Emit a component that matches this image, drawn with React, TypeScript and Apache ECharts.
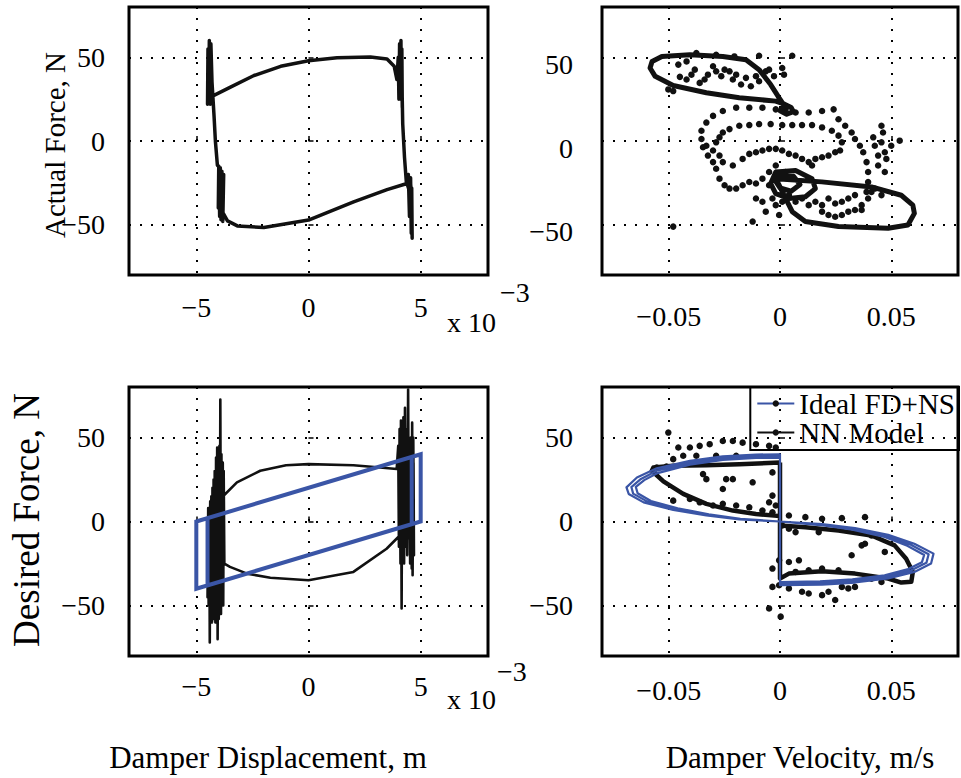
import React, { useEffect, useRef } from 'react';
import * as echarts from 'echarts';

const FONT = "'Liberation Serif', 'Times New Roman', serif";
const BLUE = '#3A55A6';
const INK = '#111111';

// tick labels
const dispTicks = [-5, 0, 5];
const velTicks = [-0.05, 0, 0.05];
const forceTicks = [-50, 0, 50];

// ---- Actual force vs displacement (x in 1e-3 m, y in N)
const actualDispLoop: number[][] = [
  [-4.28, 26.8], [-3.5, 32.0], [-2.43, 39.1], [-1.24, 44.6], [0, 47.9], [1.27, 49.7], [2.76, 50.1],
  [3.5, 48.9], [3.82, 44.6], [3.94, 36.7],
  [4.0, 50], [4.03, 25], [4.06, 58], [4.09, 30], [4.12, 60], [4.14, 25], [4.16, 55], [4.18, 20], [4.15, 45], [4.2, 10],
  [4.28, -10], [4.36, -24.5],
  [4.45, -20], [4.5, -45], [4.55, -22], [4.58, -55], [4.6, -28], [4.62, -58], [4.6, -35], [4.55, -25], [4.5, -30], [4.39, -25.4],
  [3.5, -29], [2.01, -36.3], [0, -47.2], [-1.99, -51.7], [-3.17, -50.7], [-3.61, -47.7], [-3.84, -42.2],
  [-3.78, -20], [-3.82, -48], [-3.86, -18], [-3.9, -47], [-3.93, -16], [-3.96, -45], [-3.99, -17], [-4.02, -40], [-4.0, -15],
  [-4.06, -14.6], [-4.15, 0], [-4.21, 15],
  [-4.3, 35], [-4.35, 58], [-4.38, 22], [-4.42, 60], [-4.45, 25], [-4.48, 55], [-4.5, 22], [-4.45, 45], [-4.35, 28], [-4.28, 26.8],
];

// ---- Actual force vs velocity (x in m/s, y in N)
const actualVelUpperLoop: number[][] = [
  [-0.0004, 25.8], [-0.0042, 33.7], [-0.0094, 42.6], [-0.0153, 48.5], [-0.0257, 50.5], [-0.0405, 51.5],
  [-0.0531, 50.5], [-0.0575, 47.5], [-0.0584, 43.6], [-0.0561, 38.6], [-0.048, 33.1], [-0.0331, 28.8],
  [-0.0183, 25.8], [-0.0019, 23.8], [0.002, 22.0], [0.005, 20.0], [0.006, 17.5], [0.003, 16.0], [0.0, 18.0],
  [0.002, 21.0], [-0.0004, 25.8],
];
const actualVelLowerLoop: number[][] = [
  [-0.0019, -22.5], [0.0188, -24.4], [0.0411, -27.4], [0.0545, -32.4], [0.0597, -38.3], [0.0604, -43.2],
  [0.0575, -50.1], [0.0486, -52.1], [0.0263, -51.1], [0.0114, -48.1], [0.0055, -42.2], [0.0025, -34.3],
  [-0.0004, -26.4], [-0.0019, -22.5],
  [-0.0019, -18.5], [0.007, -17.6], [0.0144, -22.5], [0.0159, -28.4], [0.0114, -33.3], [0.004, -34.3],
  [-0.0019, -31.4], [-0.0042, -25.4], [-0.0019, -18.5],
  [0.0, -20.0], [0.006, -21.0], [0.009, -26.0], [0.005, -30.0], [0.0, -28.0], [-0.002, -24.0], [0.0, -20.0],
];
const actualVelDots: number[][] = [
  [-0.0502, 30.8], [-0.048, 29.8], [-0.045, 38.3], [-0.042, 36.7], [-0.0398, 39.6], [-0.0383, 42.6],
  [-0.0361, 34.7], [-0.0339, 36.7], [-0.0324, 39.6], [-0.0301, 44.6], [-0.0287, 41.6], [-0.0264, 38.7],
  [-0.0249, 42.6], [-0.0227, 41.6], [-0.0212, 36.7], [-0.0197, 39.6], [-0.0175, 33.7], [-0.0153, 37.7],
  [-0.0131, 32.7], [-0.0108, 38.7], [-0.0094, 35.7], [-0.0064, 41.6], [-0.0049, 42.6], [-0.0027, 38.7],
  [0.001, 43.6], [0.0018, 39.6], [0.0055, 50.9], [-0.0094, 50.9], [-0.0205, 50.5], [-0.0287, 51.5],
  [-0.0376, 52.5], [-0.0457, 45.6], [-0.042, 47.5],
  [-0.0019, 18.9], [-0.0079, 19.9], [-0.0138, 19.9], [-0.0197, 19.9], [-0.0257, 17.9], [-0.0301, 15.0],
  [-0.0331, 11.0], [-0.0353, 6.1], [-0.0353, 1.2], [-0.0346, -3.7], [-0.0324, -8.7], [-0.0301, -12.6],
  [-0.0287, -16.6], [-0.0272, -22.5], [-0.0249, -26.4], [-0.0227, -28.4], [-0.0197, -28.4], [-0.0168, -26.4],
  [-0.0138, -24.5], [-0.0108, -25.4],
  [0.0025, 18.9], [0.007, 17.0], [0.0129, 17.0], [0.0189, 17.9], [0.0241, 18.9], [0.0263, 13.0],
  [0.0293, 9.1], [0.0322, 5.1], [0.0337, 1.2], [0.0359, -2.8], [0.0374, -6.7], [0.0389, -12.6],
  [0.0396, -18.5], [0.0396, -24.5], [0.0389, -30.4],
  [-0.0257, 5.1], [-0.0227, 7.1], [-0.0183, 9.1], [-0.0138, 9.5], [-0.0094, 10.1], [-0.0042, 10.1],
  [0.001, 9.5], [0.0055, 9.5], [0.0099, 9.5], [0.0144, 9.5], [0.0189, 8.1], [0.0233, 6.1], [0.0263, 3.2],
  [0.0278, -0.8], [0.027, -5.7], [0.0248, -6.7], [0.0218, -8.7], [0.0189, -9.7], [0.0159, -10.7],
  [-0.0331, -2.8], [-0.0301, -5.7], [-0.0272, -8.7], [-0.0257, -12.6], [-0.0212, -14.6], [-0.0287, -0.8],
  [-0.0272, 2.2],
  [-0.0168, -10.7], [-0.0138, -7.7], [-0.0108, -6.7], [-0.0079, -5.7], [-0.0049, -4.7], [-0.0019, -4.7],
  [0.001, -5.7], [0.004, -7.7], [0.007, -8.7], [0.0099, -10.7], [0.0129, -12.6], [0.0144, -14.6],
  [0.007, -36.3], [0.0099, -34.3], [0.0129, -38.3], [0.0159, -36.3], [0.0189, -38.3], [0.0218, -34.3],
  [0.0248, -37.3], [0.0278, -36.3], [0.0307, -34.3], [0.0337, -32.3], [0.0367, -38.3], [0.0396, -34.3],
  [0.0411, -30.4], [0.0426, -28.4], [0.0456, -32.3], [0.0189, -42.2], [0.0218, -44.2], [0.0248, -45.2],
  [0.0278, -44.2], [0.0307, -42.2], [0.0337, -41.2], [0.0367, -41.2],
  [0.0456, 9.1], [0.0463, 5.1], [0.0456, -0.8], [0.0471, -6.7], [0.0478, -10.7], [0.0471, -18.5],
  [0.05, -2.8], [0.0538, 0.2], [0.0419, 2.2], [0.0426, -2.8], [0.0441, -8.7], [0.0441, -14.6],
  [-0.0049, -26.4], [-0.0034, -34.3], [-0.0019, -38.3], [-0.0004, -44.2], [-0.0064, -42.2], [-0.0079, -36.3],
  [-0.0108, -34.3], [-0.0123, -48.1], [-0.048, -51.1], [-0.0049, -18.5], [-0.0079, -22.5], [-0.0019, -14.6],
  [0.0025, -18.5], [0.0055, -22.5], [0.004, -32.3], [0.001, -36.3],
];

// ---- Desired force vs displacement
const desiredDispNN: number[][] = [
  [-3.75, -25], [-3.78, 30], [-3.8, -50], [-3.82, 35], [-3.85, -45], [-3.88, 40], [-3.9, -55], [-3.93, 72.6],
  [-3.95, -30], [-3.97, 45], [-4.0, -58], [-4.02, 40], [-4.05, -70], [-4.07, 44], [-4.1, -55], [-4.12, 38],
  [-4.15, -60], [-4.18, 30], [-4.2, -50], [-4.23, 25], [-4.25, -58], [-4.28, 20], [-4.3, -60], [-4.33, 15],
  [-4.35, -55], [-4.38, 10], [-4.4, -72], [-4.42, 5], [-4.45, -50], [-4.47, 0], [-4.5, -45], [-4.47, 8],
  [-4.43, -40], [-4.38, 12], [-4.3, -35], [-4.2, 14], [-4.1, -30], [-4.0, 12], [-3.93, 13.4],
  [-3.19, 23.3], [-2.15, 30.2], [-1.0, 33.5], [0, 34.1], [2.0, 33.5], [3.19, 32.1], [3.93, 31.2],
  [4.0, 45], [4.03, -15], [4.06, 55], [4.1, -25], [4.12, 60], [4.15, -51.7], [4.18, 58], [4.2, -20],
  [4.23, 62], [4.26, -25], [4.3, 67.7], [4.33, -15], [4.36, 55], [4.4, -20], [4.44, 78.5], [4.47, -10],
  [4.5, 45], [4.53, -25], [4.56, 50], [4.6, -28], [4.62, 58.8], [4.64, -32], [4.67, 50], [4.7, -20],
  [4.68, 35], [4.6, -15], [4.5, 25], [4.45, -10], [4.37, -4.3],
  [3.48, -16.2], [2.0, -30.0], [0, -34.9], [-1.7, -33.5], [-2.74, -31.0], [-3.5, -27.0], [-3.75, -25],
];
const desiredDispIdeal: number[][] = [
  [-5, 0], [5, 40], [5, 0], [-5, -40], [-5, 0],
  [-4.5, 2], [4.6, 38.4], [4.6, -1.6], [-4.5, -38], [-4.5, 2],
];

// ---- Desired force vs velocity
const desiredVelNN: number[][] = [
  [0, 35.1], [-0.0183, 34.1], [-0.0331, 33.5], [-0.048, 33.1], [-0.0569, 32.1], [-0.0576, 30.2],
  [-0.0524, 23.9], [-0.0435, 16.4], [-0.0331, 10.5], [-0.0212, 6.5], [-0.0108, 4.5], [0, 3.2], [0, -2.4],
  [0.0114, -3.4], [0.0263, -5.3], [0.0411, -8.3], [0.0515, -14.2], [0.0567, -22.1], [0.0597, -30.0],
  [0.059, -35.9], [0.0545, -36.3], [0.0486, -33.9], [0.0337, -31.0], [0.0189, -29.6], [0.004, -31.0],
  [0, -33.9], [0, 35.1],
];
const desiredVelIdeal: number[][] = [
  [0, 40], [-0.0108, 39.8], [-0.0257, 38.7], [-0.0405, 36.1], [-0.0554, 31.6], [-0.0643, 26.2], [-0.069, 20.3],
  [-0.068, 16.4], [-0.0613, 11.4], [-0.048, 6.9], [-0.0331, 3.6], [-0.0183, 1.2], [0, 0], [0.0189, -1.6],
  [0.0337, -3.9], [0.0486, -7.9], [0.0604, -13.2], [0.069, -19.1], [0.0679, -25.0], [0.0604, -30.0],
  [0.0486, -33.9], [0.0337, -36.3], [0.0189, -37.5], [0, -37.9], [0, 40],
  [0, 39], [-0.0108, 38.8], [-0.0257, 37.6], [-0.0405, 34.9], [-0.0554, 30.2], [-0.0625, 25.3], [-0.0668, 20.5],
  [-0.066, 16.6], [-0.0596, 11.8], [-0.047, 7.4], [-0.0325, 3.9], [-0.018, 1.4], [0, 0], [0.0185, -1.9],
  [0.033, -4.4], [0.0478, -8.6], [0.0588, -13.8], [0.0668, -19.5], [0.0658, -24.6], [0.0588, -29.2],
  [0.0478, -32.9], [0.033, -35.3], [0.0185, -36.5], [0, -37.0], [0, 39],
  [0, 38], [-0.0108, 37.8], [-0.0257, 36.6], [-0.0405, 33.8], [-0.055, 28.8], [-0.061, 24.6], [-0.0648, 20.6],
  [-0.064, 16.8], [-0.058, 12.2], [-0.046, 7.9], [-0.032, 4.2], [-0.0178, 1.6], [0, 0], [0.018, -2.1],
  [0.0325, -4.8], [0.047, -9.2], [0.0572, -14.4], [0.0648, -19.9], [0.0638, -24.2], [0.0572, -28.5],
  [0.047, -32.0], [0.0325, -34.4], [0.018, -35.6], [0, -36.0], [0, 38],
];
const desiredVelDots: number[][] = [
  [-0.0502, 52.9], [-0.0457, 44.0], [-0.0405, 44.0], [-0.0361, 45.0], [-0.0316, 46.0], [-0.0257, 47.9],
  [-0.0212, 47.9], [-0.0168, 46.9], [-0.0108, 46.0], [-0.0049, 45.0], [-0.0019, 44.0],
  [-0.048, 37.1], [-0.0435, 39.1], [-0.0376, 39.1], [-0.0287, 39.1], [-0.0197, 39.1],
  [-0.0346, 28.2], [-0.0331, 25.2], [-0.0257, 19.3], [-0.0242, 25.2], [-0.0212, 25.2], [-0.0034, 29.2],
  [-0.0034, 15.4], [-0.0123, 23.3],
  [-0.048, 12.4], [-0.0405, 13.4], [-0.0361, 11.4], [-0.0301, 9.5], [-0.0257, 10.5], [-0.0197, 9.5],
  [-0.0138, 8.5], [-0.0079, 6.5], [-0.0034, 5.5], [-0.0019, 9.5], [-0.0049, 11.4],
  [-0.0554, 32.1], [-0.051, 32.7],
  [0.004, 3.6], [0.0114, 2.6], [0.0189, 1.6], [0.0278, 2.0], [0.0382, 2.6], [0.001, -2.4], [0.004, -4.3],
  [0.007, -6.3], [0.0174, -6.3], [0.0322, -20.1], [0.0367, -14.2], [0.0382, -13.2], [0.0471, -18.1],
  [0.0411, -8.3],
  [-0.0004, -23.1], [-0.0034, -28.0], [0.004, -24.1], [0.0085, -23.1], [-0.0004, -37.9], [-0.0034, -38.9],
  [0.004, -39.8], [0.0099, -41.8], [0.0129, -42.8], [0.0189, -43.8], [0.0248, -46.7], [0.0218, -41.8],
  [0.0307, -39.8], [0.0337, -38.9], [-0.0049, -51.7], [0.0003, -56.6],
  [0.007, -30.0], [0.0129, -29.0], [0.0189, -28.0], [0.0263, -29.0], [0.0411, -34.0], [0.0456, -36.0],
  [0.0278, -38.9],
];

const fmt = (v: number) => {
  const r = Math.round(v * 1000) / 1000;
  if (r === 0) return '0';
  return String(r).replace('-', '\u2212');
};
const near = (v: number, ticks: number[]) => ticks.some((t) => Math.abs(t - v) < 1e-9);

function xAxis(gridIndex: number, min: number, max: number, ticks: number[], margin: number) {
  return {
    type: 'value', gridIndex, min, max, splitNumber: 3,
    axisLine: { show: false },
    axisTick: { show: true, inside: true, length: 5, lineStyle: { color: '#000', width: 1.5 } },
    axisLabel: {
      show: true, margin, fontFamily: FONT, fontSize: 28, color: '#000',
      formatter: (v: number) => (near(v, ticks) ? fmt(v) : ''),
    },
    splitLine: { show: true, lineStyle: { color: '#000', width: 2, type: [2, 9] } },
  };
}
function yAxis(gridIndex: number, margin: number, shiftDown: boolean) {
  const label: any = {
    show: true, margin, fontFamily: FONT, fontSize: 28, color: '#000',
    formatter: (v: number) => (near(v, forceTicks) ? fmt(v) : ''),
  };
  if (shiftDown) {
    label.verticalAlign = 'top';
    label.lineHeight = 14;
  }
  return {
    type: 'value', gridIndex, min: -80, max: 80, splitNumber: 3,
    axisLine: { show: false },
    axisTick: { show: true, inside: true, length: 5, lineStyle: { color: '#000', width: 1.5 } },
    axisLabel: label,
    splitLine: { show: true, lineStyle: { color: '#000', width: 2, type: [2, 9] } },
  };
}

const txt = (text: string, x: number, y: number, size: number, rot = 0, align = 'center') => ({
  type: 'text', x, y, rotation: rot, silent: true,
  style: {
    text, fill: '#000', font: `${size}px ${FONT}`,
    align, verticalAlign: 'middle', textAlign: align, textVerticalAlign: 'middle',
  },
});

export default function App() {
  const ref = useRef<HTMLDivElement>(null);
  useEffect(() => {
    document.body.style.margin = '0';
    document.body.style.overflow = 'hidden';
    if (!ref.current) return;
    const chart = echarts.init(ref.current, undefined, { renderer: 'svg' });
    const gridBase = { show: true, borderColor: '#000', borderWidth: 3, backgroundColor: 'transparent', containLabel: false };
    chart.setOption({
      animation: false,
      backgroundColor: '#fff',
      textStyle: { fontFamily: FONT },
      grid: [
        { ...gridBase, left: 129, top: 7, width: 359, height: 268 },
        { ...gridBase, left: 602, top: 7, width: 357, height: 268 },
        { ...gridBase, left: 129, top: 387, width: 359, height: 269 },
        { ...gridBase, left: 602, top: 387, width: 357, height: 269 },
      ],
      xAxis: [
        xAxis(0, -8, 8, dispTicks, 18),
        xAxis(1, -0.08, 0.08, velTicks, 27),
        xAxis(2, -8, 8, dispTicks, 16),
        xAxis(3, -0.08, 0.08, velTicks, 20),
      ],
      yAxis: [yAxis(0, 24, false), yAxis(1, 29, true), yAxis(2, 24, false), yAxis(3, 29, false)],
      legend: {
        data: ['Ideal FD+NS', 'NN Model'],
        orient: 'vertical', right: 2, top: 387,
        itemWidth: 37, itemHeight: 8, itemGap: 0,
        padding: [2, 4, 3, 6],
        borderColor: '#000', borderWidth: 2, backgroundColor: 'transparent',
        textStyle: { fontFamily: FONT, fontSize: 29, color: '#000', lineHeight: 28 },
        lineStyle: { width: 2 },
      },
      graphic: [
        txt('Actual Force, N', 55, 145, 29, Math.PI / 2),
        txt('Desired Force, N', 26, 520, 37, Math.PI / 2),
        txt('Damper Displacement, m', 268, 757, 31),
        txt('Damper Velocity, m/s', 800, 757, 31),
        txt('x 10', 447, 322, 28, 0, 'left'),
        txt('\u22123', 500, 292, 28, 0, 'left'),
        txt('x 10', 447, 699, 28, 0, 'left'),
        txt('\u22123', 497, 671, 28, 0, 'left'),
      ],
      series: [
        { type: 'line', name: 'actual-disp', xAxisIndex: 0, yAxisIndex: 0, data: actualDispLoop, symbol: 'none',
          lineStyle: { color: INK, width: 3.5, join: 'round' }, silent: true },
        { type: 'line', name: 'actual-vel-a', xAxisIndex: 1, yAxisIndex: 1, data: actualVelUpperLoop, symbol: 'none',
          lineStyle: { color: INK, width: 5, join: 'round' }, silent: true },
        { type: 'line', name: 'actual-vel-b', xAxisIndex: 1, yAxisIndex: 1, data: actualVelLowerLoop, symbol: 'none',
          lineStyle: { color: INK, width: 5, join: 'round' }, silent: true },
        { type: 'scatter', name: 'actual-vel-dots', xAxisIndex: 1, yAxisIndex: 1, data: actualVelDots,
          symbolSize: 6.5, itemStyle: { color: INK, opacity: 1 }, silent: true },
        { type: 'line', name: 'desired-disp-nn', xAxisIndex: 2, yAxisIndex: 2, data: desiredDispNN, symbol: 'none',
          lineStyle: { color: INK, width: 2.6, join: 'round' }, silent: true },
        { type: 'line', name: 'desired-disp-ideal', xAxisIndex: 2, yAxisIndex: 2, data: desiredDispIdeal, symbol: 'none',
          lineStyle: { color: BLUE, width: 4, join: 'miter' }, silent: true },
        { type: 'scatter', name: 'desired-vel-dots', xAxisIndex: 3, yAxisIndex: 3, data: desiredVelDots,
          symbolSize: 6.5, itemStyle: { color: INK, opacity: 1 }, silent: true },
        { type: 'line', name: 'NN Model', xAxisIndex: 3, yAxisIndex: 3, data: desiredVelNN, symbol: 'none',
          itemStyle: { color: INK }, lineStyle: { color: INK, width: 4.5, join: 'round' }, silent: true },
        { type: 'line', name: 'Ideal FD+NS', xAxisIndex: 3, yAxisIndex: 3, data: desiredVelIdeal,
          symbol: 'circle', symbolSize: 6, showSymbol: false,
          itemStyle: { color: INK }, lineStyle: { color: BLUE, width: 2.2, join: 'round' }, silent: true },
      ],
    });
    return () => chart.dispose();
  }, []);
  return <div ref={ref} style={{ width: 961, height: 778 }} />;
}
